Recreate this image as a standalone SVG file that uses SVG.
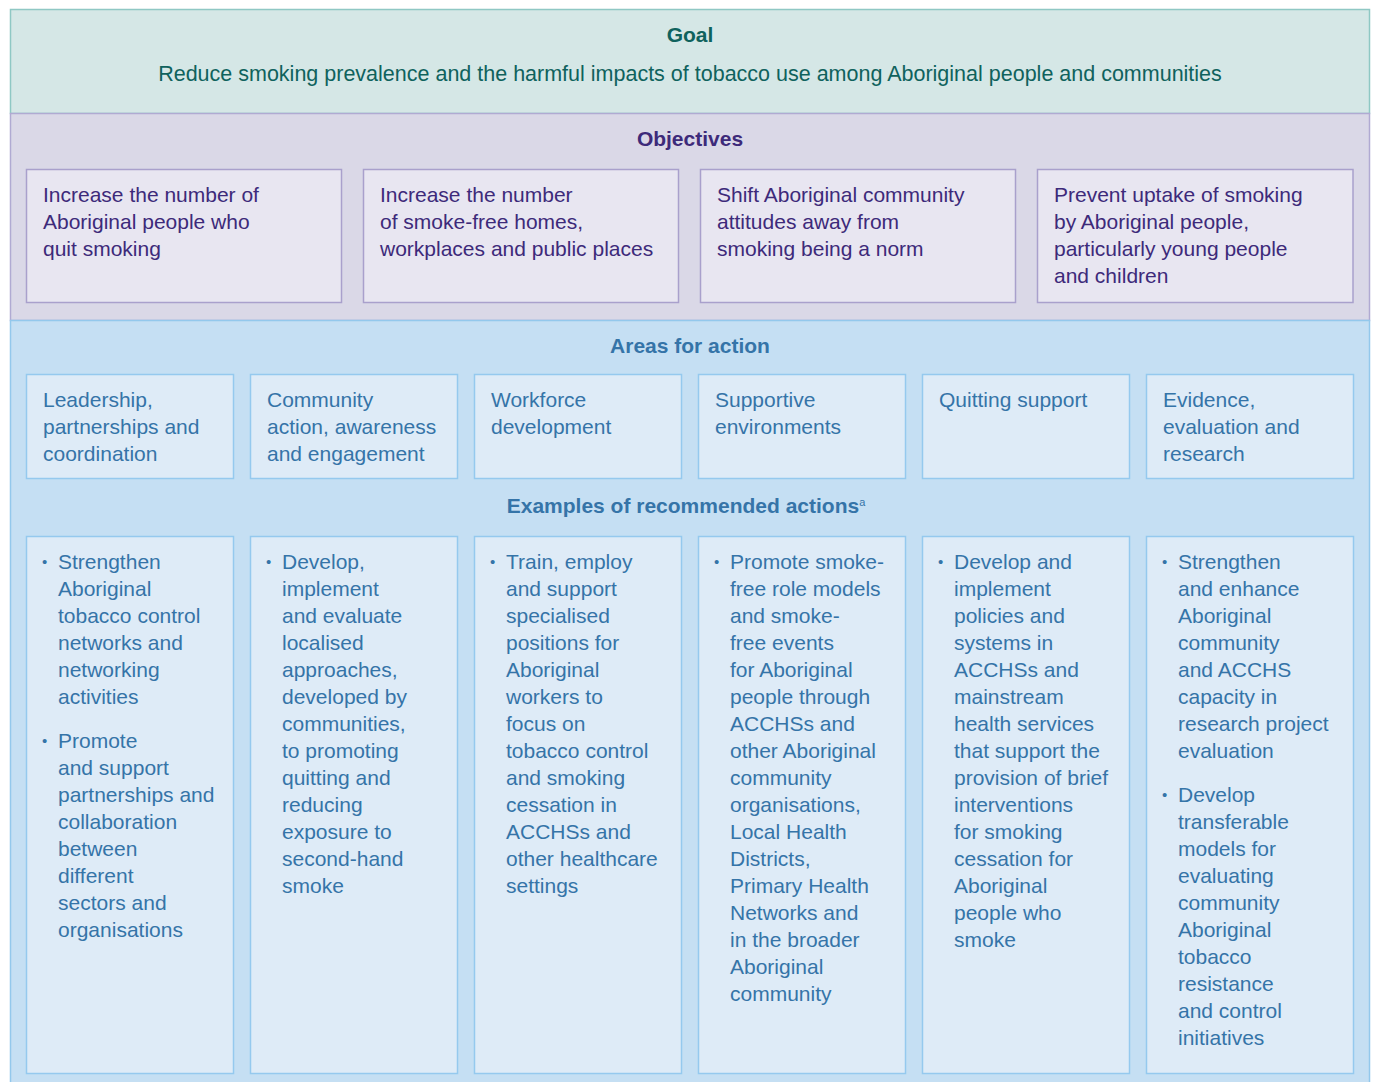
<svg xmlns="http://www.w3.org/2000/svg" width="1375" height="1082" viewBox="0 0 1375 1082">
  <style>
    text { font-family: "Liberation Sans", Arial, sans-serif; font-size: 21px; }
    .head { font-weight: bold; text-anchor: middle; }
    .goal-sec { fill: #d5e7e6; stroke: #8fc8c4; stroke-width: 1.5; }
    .obj-sec { fill: #dad8e7; stroke: #b0aad2; stroke-width: 1.5; }
    .act-sec { fill: #c5dff3; stroke: #93c8ec; stroke-width: 1.5; }
    .obj-box { fill: #e8e6f1; stroke: #a9a0cc; stroke-width: 1.5; }
    .act-box { fill: #deebf7; stroke: #95c9ee; stroke-width: 1.5; }
    .goal-txt { fill: #0f625d; }
    .obj-txt { fill: #3d2a7a; }
    .act-txt { fill: #3574a8; }
    .bullet { font-size: 15px; }
  </style>

  <!-- Goal band -->
  <g id="goal">
    <rect class="goal-sec" x="10.5" y="9.5" width="1359" height="104"/>
    <text class="head goal-txt" x="690" y="42">Goal</text>
    <text class="goal-txt" x="690" y="81" text-anchor="middle" style="font-size:21.5px">Reduce smoking prevalence and the harmful impacts of tobacco use among Aboriginal people and communities</text>
  </g>

  <!-- Objectives band -->
  <g id="objectives">
    <rect class="obj-sec" x="10.5" y="113.5" width="1359" height="207"/>
    <text class="head obj-txt" x="690" y="146">Objectives</text>
  </g>
  <g id="objective-1">
    <rect class="obj-box" x="26.5" y="169.5" width="315" height="133"/>
    <text class="obj-txt" y="202"><tspan x="43">Increase the number of</tspan><tspan x="43" dy="27">Aboriginal people who</tspan><tspan x="43" dy="27">quit smoking</tspan></text>
  </g>
  <g id="objective-2">
    <rect class="obj-box" x="363.5" y="169.5" width="315" height="133"/>
    <text class="obj-txt" y="202"><tspan x="380">Increase the number</tspan><tspan x="380" dy="27">of smoke-free homes,</tspan><tspan x="380" dy="27">workplaces and public places</tspan></text>
  </g>
  <g id="objective-3">
    <rect class="obj-box" x="700.5" y="169.5" width="315" height="133"/>
    <text class="obj-txt" y="202"><tspan x="717">Shift Aboriginal community</tspan><tspan x="717" dy="27">attitudes away from</tspan><tspan x="717" dy="27">smoking being a norm</tspan></text>
  </g>
  <g id="objective-4">
    <rect class="obj-box" x="1037.5" y="169.5" width="315.5" height="133"/>
    <text class="obj-txt" y="202"><tspan x="1054">Prevent uptake of smoking</tspan><tspan x="1054" dy="27">by Aboriginal people,</tspan><tspan x="1054" dy="27">particularly young people</tspan><tspan x="1054" dy="27">and children</tspan></text>
  </g>

  <!-- Areas for action band -->
  <g id="areas">
    <rect class="act-sec" x="10.5" y="320.5" width="1359" height="780"/>
    <text class="head act-txt" x="690" y="353">Areas for action</text>
    <text class="head act-txt" x="686" y="513">Examples of recommended actions<tspan font-size="11" font-weight="normal" dy="-7">a</tspan></text>
  </g>
  <g id="area-1">
    <rect class="act-box" x="26.5" y="374.5" width="207" height="104"/>
    <text class="act-txt" y="407"><tspan x="43">Leadership,</tspan><tspan x="43" dy="27">partnerships and</tspan><tspan x="43" dy="27">coordination</tspan></text>
  </g>
  <g id="area-2">
    <rect class="act-box" x="250.5" y="374.5" width="207" height="104"/>
    <text class="act-txt" y="407"><tspan x="267">Community</tspan><tspan x="267" dy="27">action, awareness</tspan><tspan x="267" dy="27">and engagement</tspan></text>
  </g>
  <g id="area-3">
    <rect class="act-box" x="474.5" y="374.5" width="207" height="104"/>
    <text class="act-txt" y="407"><tspan x="491">Workforce</tspan><tspan x="491" dy="27">development</tspan></text>
  </g>
  <g id="area-4">
    <rect class="act-box" x="698.5" y="374.5" width="207" height="104"/>
    <text class="act-txt" y="407"><tspan x="715">Supportive</tspan><tspan x="715" dy="27">environments</tspan></text>
  </g>
  <g id="area-5">
    <rect class="act-box" x="922.5" y="374.5" width="207" height="104"/>
    <text class="act-txt" y="407"><tspan x="939">Quitting support</tspan></text>
  </g>
  <g id="area-6">
    <rect class="act-box" x="1146.5" y="374.5" width="207" height="104"/>
    <text class="act-txt" y="407"><tspan x="1163">Evidence,</tspan><tspan x="1163" dy="27">evaluation and</tspan><tspan x="1163" dy="27">research</tspan></text>
  </g>

  <!-- Recommended actions per area -->
  <g id="actions-1">
    <rect class="act-box" x="26.5" y="536.5" width="207" height="537"/>
    <text class="act-txt bullet" x="42" y="567">•</text>
    <text class="act-txt" y="569"><tspan x="58">Strengthen</tspan><tspan x="58" dy="27">Aboriginal</tspan><tspan x="58" dy="27">tobacco control</tspan><tspan x="58" dy="27">networks and</tspan><tspan x="58" dy="27">networking</tspan><tspan x="58" dy="27">activities</tspan></text>
    <text class="act-txt bullet" x="42" y="746">•</text>
    <text class="act-txt" y="748"><tspan x="58">Promote</tspan><tspan x="58" dy="27">and support</tspan><tspan x="58" dy="27">partnerships and</tspan><tspan x="58" dy="27">collaboration</tspan><tspan x="58" dy="27">between</tspan><tspan x="58" dy="27">different</tspan><tspan x="58" dy="27">sectors and</tspan><tspan x="58" dy="27">organisations</tspan></text>
  </g>
  <g id="actions-2">
    <rect class="act-box" x="250.5" y="536.5" width="207" height="537"/>
    <text class="act-txt bullet" x="266" y="567">•</text>
    <text class="act-txt" y="569"><tspan x="282">Develop,</tspan><tspan x="282" dy="27">implement</tspan><tspan x="282" dy="27">and evaluate</tspan><tspan x="282" dy="27">localised</tspan><tspan x="282" dy="27">approaches,</tspan><tspan x="282" dy="27">developed by</tspan><tspan x="282" dy="27">communities,</tspan><tspan x="282" dy="27">to promoting</tspan><tspan x="282" dy="27">quitting and</tspan><tspan x="282" dy="27">reducing</tspan><tspan x="282" dy="27">exposure to</tspan><tspan x="282" dy="27">second-hand</tspan><tspan x="282" dy="27">smoke</tspan></text>
  </g>
  <g id="actions-3">
    <rect class="act-box" x="474.5" y="536.5" width="207" height="537"/>
    <text class="act-txt bullet" x="490" y="567">•</text>
    <text class="act-txt" y="569"><tspan x="506">Train, employ</tspan><tspan x="506" dy="27">and support</tspan><tspan x="506" dy="27">specialised</tspan><tspan x="506" dy="27">positions for</tspan><tspan x="506" dy="27">Aboriginal</tspan><tspan x="506" dy="27">workers to</tspan><tspan x="506" dy="27">focus on</tspan><tspan x="506" dy="27">tobacco control</tspan><tspan x="506" dy="27">and smoking</tspan><tspan x="506" dy="27">cessation in</tspan><tspan x="506" dy="27">ACCHSs and</tspan><tspan x="506" dy="27">other healthcare</tspan><tspan x="506" dy="27">settings</tspan></text>
  </g>
  <g id="actions-4">
    <rect class="act-box" x="698.5" y="536.5" width="207" height="537"/>
    <text class="act-txt bullet" x="714" y="567">•</text>
    <text class="act-txt" y="569"><tspan x="730">Promote smoke-</tspan><tspan x="730" dy="27">free role models</tspan><tspan x="730" dy="27">and smoke-</tspan><tspan x="730" dy="27">free events</tspan><tspan x="730" dy="27">for Aboriginal</tspan><tspan x="730" dy="27">people through</tspan><tspan x="730" dy="27">ACCHSs and</tspan><tspan x="730" dy="27">other Aboriginal</tspan><tspan x="730" dy="27">community</tspan><tspan x="730" dy="27">organisations,</tspan><tspan x="730" dy="27">Local Health</tspan><tspan x="730" dy="27">Districts,</tspan><tspan x="730" dy="27">Primary Health</tspan><tspan x="730" dy="27">Networks and</tspan><tspan x="730" dy="27">in the broader</tspan><tspan x="730" dy="27">Aboriginal</tspan><tspan x="730" dy="27">community</tspan></text>
  </g>
  <g id="actions-5">
    <rect class="act-box" x="922.5" y="536.5" width="207" height="537"/>
    <text class="act-txt bullet" x="938" y="567">•</text>
    <text class="act-txt" y="569"><tspan x="954">Develop and</tspan><tspan x="954" dy="27">implement</tspan><tspan x="954" dy="27">policies and</tspan><tspan x="954" dy="27">systems in</tspan><tspan x="954" dy="27">ACCHSs and</tspan><tspan x="954" dy="27">mainstream</tspan><tspan x="954" dy="27">health services</tspan><tspan x="954" dy="27">that support the</tspan><tspan x="954" dy="27">provision of brief</tspan><tspan x="954" dy="27">interventions</tspan><tspan x="954" dy="27">for smoking</tspan><tspan x="954" dy="27">cessation for</tspan><tspan x="954" dy="27">Aboriginal</tspan><tspan x="954" dy="27">people who</tspan><tspan x="954" dy="27">smoke</tspan></text>
  </g>
  <g id="actions-6">
    <rect class="act-box" x="1146.5" y="536.5" width="207" height="537"/>
    <text class="act-txt bullet" x="1162" y="567">•</text>
    <text class="act-txt" y="569"><tspan x="1178">Strengthen</tspan><tspan x="1178" dy="27">and enhance</tspan><tspan x="1178" dy="27">Aboriginal</tspan><tspan x="1178" dy="27">community</tspan><tspan x="1178" dy="27">and ACCHS</tspan><tspan x="1178" dy="27">capacity in</tspan><tspan x="1178" dy="27">research project</tspan><tspan x="1178" dy="27">evaluation</tspan></text>
    <text class="act-txt bullet" x="1162" y="800">•</text>
    <text class="act-txt" y="802"><tspan x="1178">Develop</tspan><tspan x="1178" dy="27">transferable</tspan><tspan x="1178" dy="27">models for</tspan><tspan x="1178" dy="27">evaluating</tspan><tspan x="1178" dy="27">community</tspan><tspan x="1178" dy="27">Aboriginal</tspan><tspan x="1178" dy="27">tobacco</tspan><tspan x="1178" dy="27">resistance</tspan><tspan x="1178" dy="27">and control</tspan><tspan x="1178" dy="27">initiatives</tspan></text>
  </g>
</svg>
